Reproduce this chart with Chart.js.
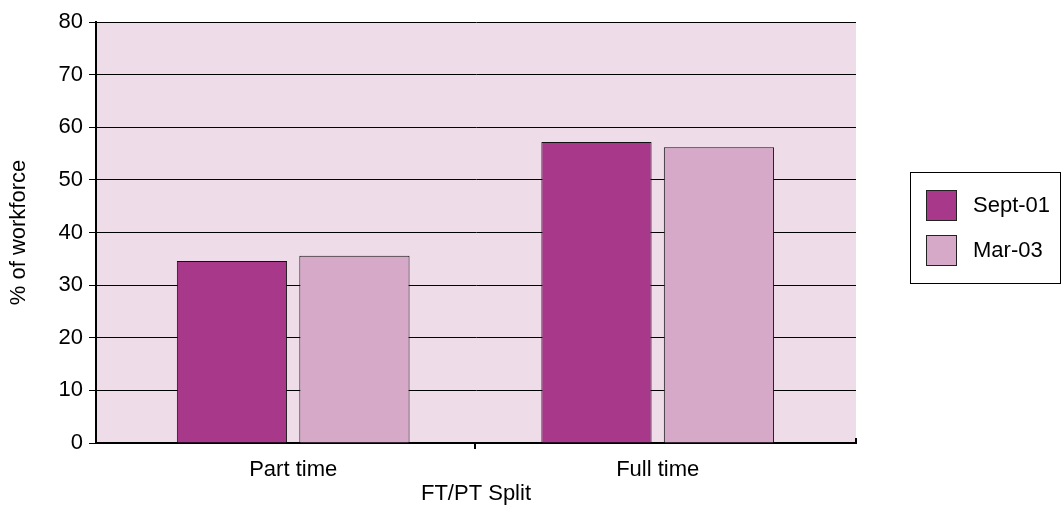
<!DOCTYPE html>
<html>
<head>
<meta charset="utf-8">
<script src="https://cdn.jsdelivr.net/npm/chart.js@4.4.0/dist/chart.umd.min.js"></script>
<style>
  html, body { margin: 0; padding: 0; background: #fff; }
  #wrap { width: 1063px; height: 507px; }
</style>
</head>
<body>
<div id="wrap"><canvas id="myChart" width="1063" height="507"></canvas></div>
<script>
// data
const categories = ["Part time", "Full time"];
const seriesNames = ["Sept-01", "Mar-03"];
const sept01 = [34.6, 57.2];
const mar03 = [35.6, 56.2];
const yTicks = [0, 10, 20, 30, 40, 50, 60, 70, 80];

const barColors = ["#A8388A", "#D7A9C8"];
const FONT = "'Liberation Sans', Arial, sans-serif";

// pink plot background + the small tick at the right end of the x axis
const plotBg = {
    id: "plotBg",
    beforeDraw(chart) {
        const a = chart.chartArea, ctx = chart.ctx;
        ctx.save();
        ctx.fillStyle = "#EEDDE9";
        ctx.fillRect(a.left, a.top, a.right - a.left, a.bottom - a.top);
        ctx.restore();
    },
    afterDraw(chart) {
        const a = chart.chartArea, ctx = chart.ctx;
        ctx.save();
        ctx.strokeStyle = "#000";
        ctx.lineWidth = 2;
        ctx.beginPath();
        ctx.moveTo(a.right, a.bottom);
        ctx.lineTo(a.right, a.bottom - 5);
        ctx.stroke();
        ctx.restore();
    }
};

// boxed legend on the right, like the original
const boxLegend = {
    id: "boxLegend",
    afterDraw(chart) {
        const ctx = chart.ctx;
        const x = 910, y = 172, w = 150, h = 111;
        ctx.save();
        ctx.strokeStyle = "#000";
        ctx.lineWidth = 1;
        ctx.strokeRect(x + 0.5, y + 0.5, w, h);
        ctx.font = "22px " + FONT;
        ctx.textBaseline = "middle";
        chart.data.datasets.forEach(function (ds, i) {
            const sy = 190 + i * 45;
            ctx.fillStyle = ds.backgroundColor;
            ctx.fillRect(926, sy, 30, 30);
            ctx.strokeStyle = "#222";
            ctx.strokeRect(926.5, sy + 0.5, 30, 30);
            ctx.fillStyle = "#000";
            ctx.fillText(ds.label, 973, sy + 16);
        });
        ctx.restore();
    }
};

new Chart(document.getElementById("myChart"), {
    type: "bar",
    data: {
        labels: categories,
        datasets: [
            { label: seriesNames[0], data: sept01, backgroundColor: barColors[0] },
            { label: seriesNames[1], data: mar03, backgroundColor: barColors[1] }
        ].map(function (d) {
            d.borderColor = "#111";
            d.borderWidth = 1;
            d.barPercentage = 0.9;
            d.categoryPercentage = 0.672;
            return d;
        })
    },
    options: {
        responsive: false,
        animation: false,
        layout: { padding: { left: 0, right: 207, top: 22, bottom: 0 } },
        plugins: {
            legend: { display: false },
            tooltip: { enabled: false }
        },
        scales: {
            x: {
                offset: true,
                afterBuildTicks(scale) {
                    // groups sit a little closer to the centre, as in the original
                    scale._startValue = -0.541;
                    scale._valueRange = 2.085;
                },
                grid: {
                    offset: true,
                    drawOnChartArea: false,
                    drawTicks: true,
                    tickLength: 6,
                    lineWidth: 2,
                    color: function (c) { return c.index === 1 ? "#000" : "rgba(0,0,0,0)"; }
                },
                border: { color: "#000", width: 2 },
                ticks: { color: "#000", font: { family: FONT, size: 22 }, padding: 8 },
                title: {
                    display: true,
                    text: "FT/PT Split",
                    color: "#000",
                    font: { family: FONT, size: 22 },
                    padding: { top: 0, bottom: 0 }
                },
                afterFit(scale) { scale.height = 64; }
            },
            y: {
                min: 0,
                max: 80,
                afterBuildTicks(scale) {
                    scale.ticks = yTicks.map(function (v) { return { value: v }; });
                },
                grid: { color: "#000", lineWidth: 1, tickLength: 7 },
                border: { color: "#000", width: 2 },
                ticks: { color: "#000", font: { family: FONT, size: 22 }, padding: 6 },
                title: {
                    display: true,
                    text: "% of workforce",
                    color: "#000",
                    font: { family: FONT, size: 22 },
                    padding: { top: 6, bottom: 4 }
                },
                afterFit(scale) { scale.width = 96; }
            }
        }
    },
    plugins: [plotBg, boxLegend]
});
</script>
</body>
</html>
